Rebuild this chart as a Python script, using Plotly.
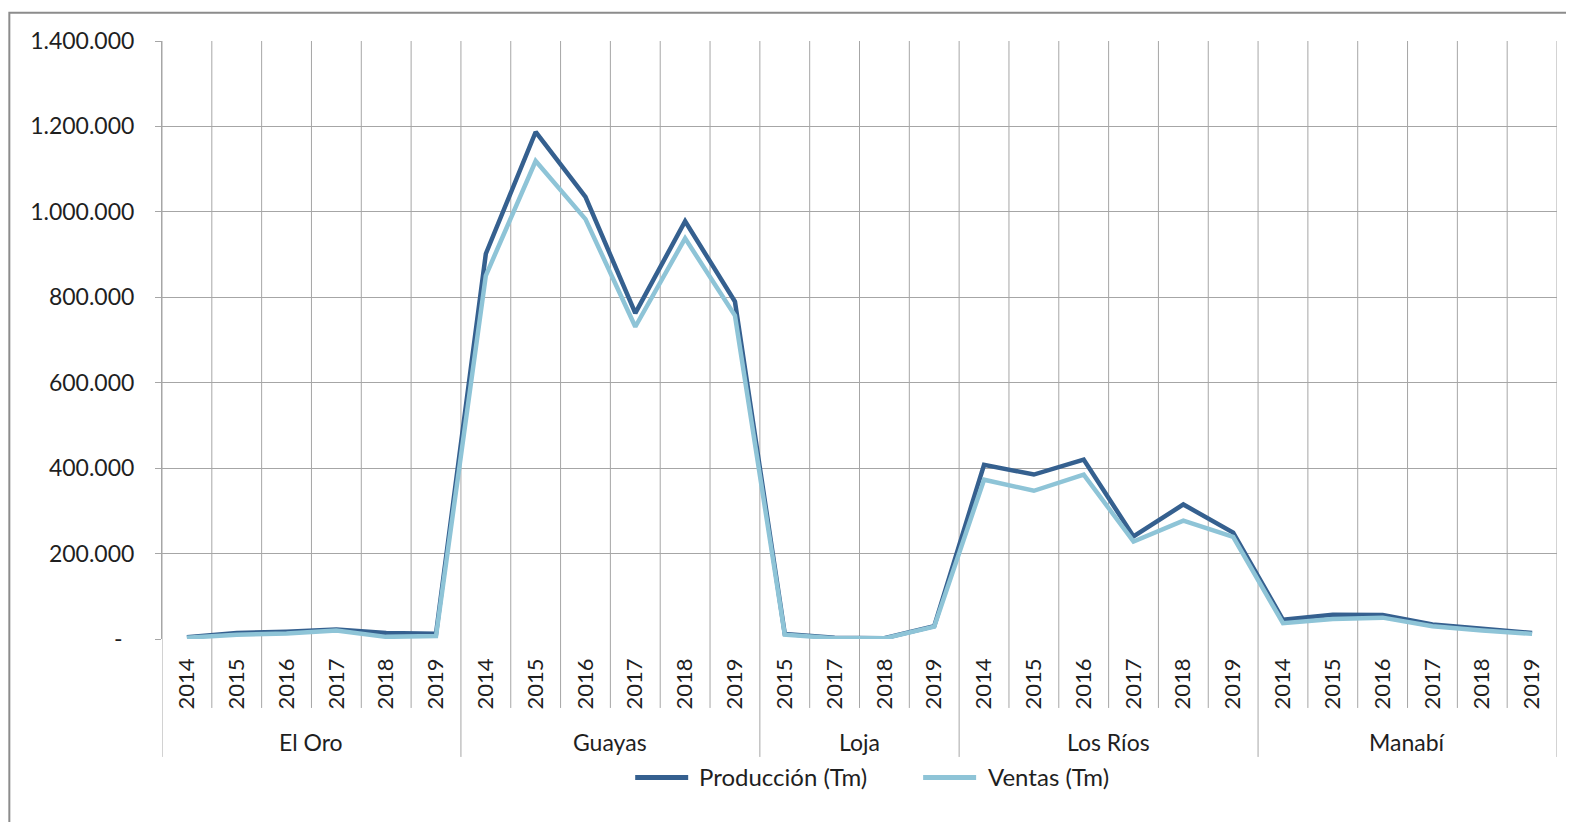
import plotly.graph_objects as go

# ---- data ----
regions = ["El Oro"] * 6 + ["Guayas"] * 6 + ["Loja"] * 4 + ["Los Ríos"] * 6 + ["Manabí"] * 6
years = ["2014", "2015", "2016", "2017", "2018", "2019",
         "2014", "2015", "2016", "2017", "2018", "2019",
         "2015", "2017", "2018", "2019",
         "2014", "2015", "2016", "2017", "2018", "2019",
         "2014", "2015", "2016", "2017", "2018", "2019"]
produccion = [4000, 14000, 17000, 22000, 14000, 12000,
              902000, 1187000, 1035000, 763000, 978000, 790000,
              12000, 3000, 2000, 30000,
              408000, 385000, 420000, 240000, 315000, 249000,
              45000, 57000, 56000, 34000, 24000, 14000]
ventas = [3000, 10000, 13000, 20000, 5000, 7000,
          851000, 1119000, 983000, 731000, 938000, 757000,
          10000, 2000, 1500, 29000,
          373000, 347000, 385000, 228000, 277000, 239000,
          37000, 47000, 50000, 30000, 20000, 12000]
y_ticks = [0, 200000, 400000, 600000, 800000, 1000000, 1200000, 1400000]
series_names = ["Producción (Tm)", "Ventas (Tm)"]
series_colors = ["#35608f", "#8ec4d7"]

# ---- layout geometry (page pixels; page has an 8px body margin) ----
OFF = 8
W, H = 1574, 822
PL, PR, PT, PB = 161.7, 1557, 40.7, 639   # plot area in page pixels
L = PL - OFF
T = PT - OFF
R = W - (PR - OFF)
B = H - (PB - OFF)
pw, ph = PR - PL, PB - PT
FONT = "Lato"
TXT = "#1f1f1f"
GRID = "#a6a6a6"

xs = list(range(len(years)))

def fmt(v):
    if v == 0:
        return "-\u00a0\u00a0"
    return f"{v:,}".replace(",", ".")

def py(pix):  # page pixel y -> paper y
    return (PB - pix) / ph

def px(pix):
    return (pix - PL) / pw

fig = go.Figure()
for name, vals, col in zip(series_names, [produccion, ventas], series_colors):
    fig.add_trace(go.Scatter(x=xs, y=vals, mode="lines", name=name, showlegend=False,
                             line=dict(color=col, width=4.5)))

shapes = []
bounds = [-0.5]
for i in range(1, len(regions)):
    if regions[i] != regions[i - 1]:
        bounds.append(i - 0.5)
bounds.append(len(regions) - 0.5)
for i in range(len(years) + 1):
    xb = i - 0.5
    y0 = py(757) if xb in bounds else py(708)
    shapes.append(dict(type="line", xref="x", yref="paper", x0=xb, x1=xb, y0=y0, y1=1,
                       line=dict(color=GRID, width=1), layer="below"))
# outer border (left and top visible)
shapes.append(dict(type="rect", xref="paper", yref="paper",
                   x0=px(9), x1=px(1600), y0=py(900), y1=py(12.5),
                   line=dict(color="#8c8c8c", width=2)))

annotations = []
seen = []
for r in regions:
    if r not in seen:
        seen.append(r)
for r in seen:
    idx = [i for i, g in enumerate(regions) if g == r]
    cx = (idx[0] + idx[-1]) / 2
    annotations.append(dict(x=cx, y=py(742), xref="x", yref="paper", text=r,
                            showarrow=False, yanchor="middle", xanchor="center",
                            font=dict(family=FONT, size=23, color=TXT)))

# custom legend
leg_items = [(635, 688, 697), (923, 976, 986)]
for (x0, x1, xt), name, col in zip(leg_items, series_names, series_colors):
    shapes.append(dict(type="line", xref="paper", yref="paper", x0=px(x0), x1=px(x1),
                       y0=py(777.5), y1=py(777.5), line=dict(color=col, width=5)))
    annotations.append(dict(x=px(xt), y=py(777), xref="paper", yref="paper", text=name,
                            showarrow=False, xanchor="left", yanchor="middle",
                            font=dict(family=FONT, size=24, color=TXT)))

fig.update_layout(
    width=W, height=H,
    margin=dict(l=L, r=R, t=T, b=B, autoexpand=False),
    paper_bgcolor="white", plot_bgcolor="white",
    showlegend=False,
    shapes=shapes, annotations=annotations,
    xaxis=dict(range=[-0.5, len(years) - 0.5], tickvals=xs, ticktext=years, tickangle=-90,
               showgrid=False, zeroline=False, showline=False, ticks="",
               ticklabelstandoff=14,
               tickfont=dict(family=FONT, size=22, color=TXT)),
    yaxis=dict(range=[0, 1400000], tickvals=y_ticks, ticktext=[fmt(v) for v in y_ticks],
               showgrid=True, gridcolor=GRID, gridwidth=1, zeroline=False,
               showline=True, linecolor=GRID, linewidth=1, mirror=False,
               ticks="outside", ticklen=6, tickcolor=GRID, ticklabelstandoff=16,
               tickfont=dict(family=FONT, size=23, color=TXT)),
)

fig.write_html("out.html")
